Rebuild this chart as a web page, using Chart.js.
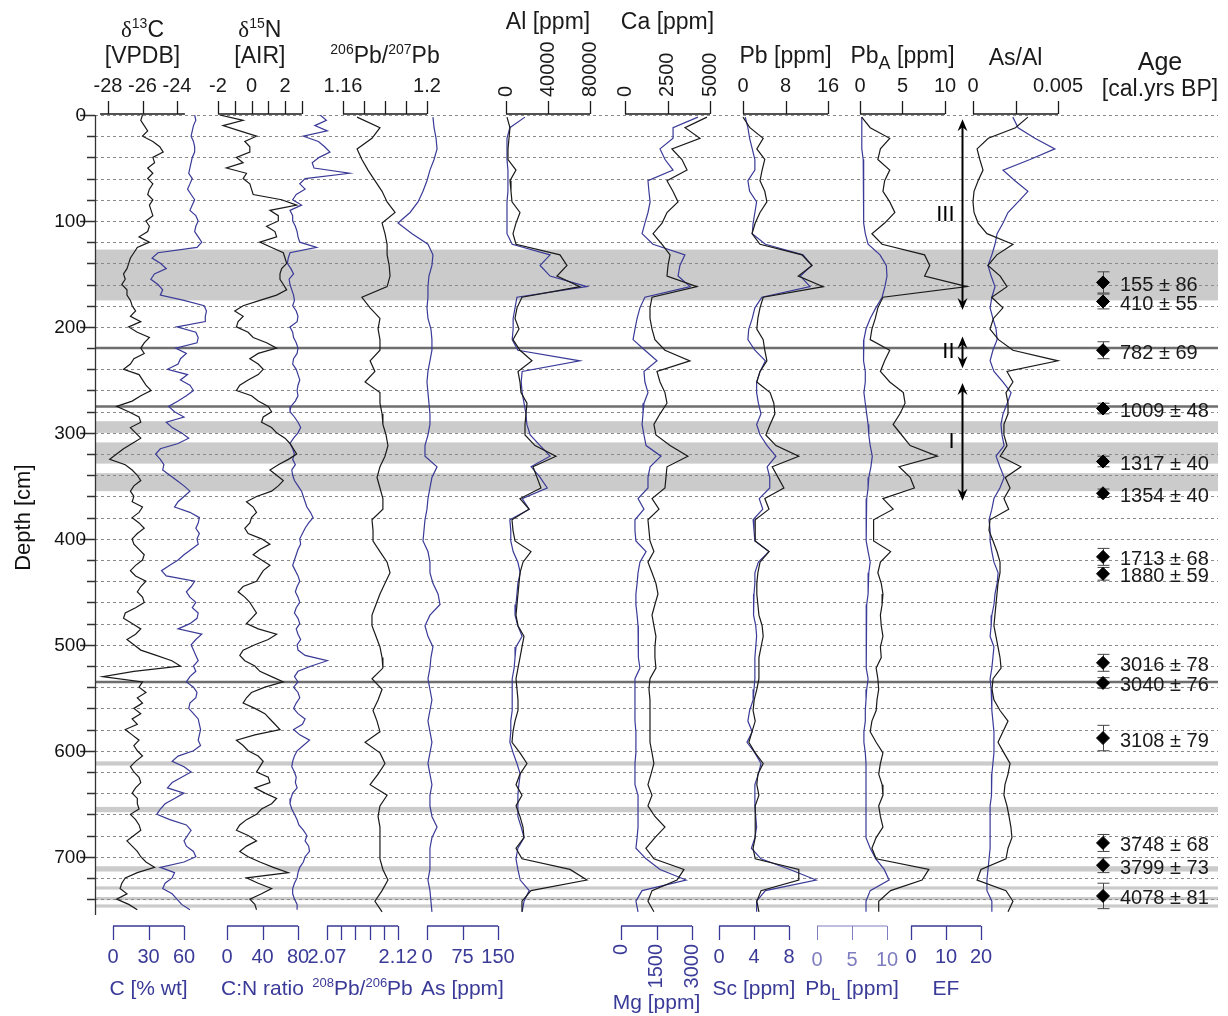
<!DOCTYPE html>
<html>
<head>
<meta charset="utf-8">
<title>Core profiles</title>
<script src="https://cdn.jsdelivr.net/npm/chart.js@4.4.1/dist/chart.umd.min.js"></script>
<style>
  html, body { margin: 0; padding: 0; background: #fff; }
  #core { display: block; }
</style>
</head>
<body>
<canvas id="core" width="1228" height="1016"></canvas>
<script>
// high resolution samples (isotopes, C, C:N), depth in cm
const hiDepth = [
  0, 5, 10, 15, 20, 25, 30, 35, 40, 45, 50, 55, 60, 65, 70, 75, 80, 85, 90, 95,
  100, 105, 110, 115, 120, 125, 130, 135, 140, 145, 150, 155, 160, 165, 170, 175, 180, 185, 190, 195,
  200, 205, 210, 215, 220, 225, 230, 235, 240, 245, 250, 255, 260, 265, 270, 275, 280, 285, 290, 295,
  300, 305, 310, 315, 320, 325, 330, 335, 340, 345, 350, 355, 360, 365, 370, 375, 380, 385, 390, 395,
  400, 405, 410, 415, 420, 425, 430, 435, 440, 445, 450, 455, 460, 465, 470, 475, 480, 485, 490, 495,
  500, 505, 510, 515, 520, 525, 530, 535, 540, 545, 550, 555, 560, 565, 570, 575, 580, 585, 590, 595,
  600, 605, 610, 615, 620, 625, 630, 635, 640, 645, 650, 655, 660, 665, 670, 675, 680, 685, 690, 695,
  700, 705, 710, 715, 720, 725, 730, 735, 740, 745, 750,
];
const d13C = [
  -26.0, -26.1, -25.9, -25.7, -26.0, -25.4, -25.0, -24.8, -25.4, -25.3,
  -25.7, -25.4, -25.7, -25.4, -25.6, -25.7, -25.4, -25.6, -25.5, -25.4,
  -25.8, -25.6, -25.7, -26.2, -25.6, -26.3, -26.5, -26.7, -26.8, -26.9,
  -27.1, -27.0, -27.2, -26.9, -26.9, -26.7, -26.6, -26.4, -26.7, -26.1,
  -26.8, -26.3, -25.6, -25.9, -26.1, -25.9, -26.5, -26.7, -27.1, -26.2,
  -26.0, -25.8, -25.5, -26.1, -26.6, -27.5, -26.8, -26.2, -26.1, -26.7,
  -26.4, -26.1, -26.6, -27.1, -27.5, -27.9, -27.0, -26.6, -26.3, -26.1,
  -26.5, -26.7, -26.5, -26.6, -26.0, -26.2, -26.6, -26.2, -25.9, -26.3,
  -26.6, -26.5, -26.2, -25.9, -26.0, -26.4, -26.7, -26.4, -25.8, -26.1,
  -26.3, -26.0, -25.9, -26.4, -27.0, -27.1, -26.6, -26.1, -26.4, -26.9,
  -26.5, -26.1, -25.2, -24.3, -23.8, -26.5, -28.3, -26.0, -26.2, -25.8,
  -26.3, -26.0, -26.5, -26.1, -26.6, -26.3, -27.0, -26.6, -26.2, -26.5,
  -26.3, -26.0, -26.4, -26.7, -26.5, -26.2, -26.1, -26.4, -26.6, -26.3,
  -26.3, -26.2, -26.7, -26.4, -26.2, -26.1, -26.5, -26.9, -26.6, -26.3,
  -26.1, -25.8, -25.3, -26.3, -27.0, -27.2, -27.3, -26.9, -27.5, -26.8, -26.3,
];
const carbon = [
  69, 70, 68, 67, 66, 68, 69, 69, 67, 66,
  65, 64, 67, 65, 63, 66, 69, 67, 65, 70,
  72, 70, 69, 72, 75, 71, 38, 33, 40, 45,
  35, 32, 38, 42, 40, 60, 77, 79, 78, 78,
  54, 70, 72, 71, 53, 62, 57, 55, 46, 63,
  57, 65, 68, 62, 55, 47, 52, 60, 45, 50,
  58, 64, 55, 40, 36, 40, 43, 42, 48, 54,
  60, 65, 60, 55, 52, 65, 73, 72, 70, 73,
  71, 72, 66, 60, 55, 48, 41, 45, 69, 66,
  62, 65, 70, 67, 72, 71, 65, 55, 75, 70,
  66, 68, 70, 72, 68, 70, 65, 62, 68, 71,
  70, 65, 64, 68, 72, 73, 74, 73, 72, 74,
  68, 55, 50, 60, 66, 58, 50, 46, 60, 52,
  44, 40, 37, 48, 62, 66, 63, 60, 62, 68,
  70, 60, 40, 52, 50, 44, 42, 50, 54, 58, 65,
];
const d15N = [
  -1.9, -0.5, -1.7, -0.7, 0.3, -0.4, -0.1, -0.1, -0.9, -0.5,
  -1.5, -0.3, -0.5, -0.1, 0.0, 0.1, 1.8, 2.7, 1.1, 1.6,
  1.6, 0.9, 1.4, 1.5, 0.5, 1.2, 1.9, 2.0, 2.1, 1.8,
  1.7, 1.7, 1.9, 2.1, 1.5, 0.5, -0.5, -1.0, -0.5, -0.8,
  -0.9, -0.2, 0.1, 0.9, 1.5, 0.4, -0.1, 0.4, 0.7, 0.4,
  -0.2, -0.7, -0.9, 0.0, 0.4, 1.0, 1.2, 0.7, 0.6, 1.2,
  1.5, 2.0, 2.3, 2.5, 2.7, 2.2, 1.6, 1.1, 1.5, 1.9,
  1.6, 1.2, 0.3, -0.3, 0.1, 0.3, 0.0, -0.1, -0.4, -0.2,
  0.6, 1.1, 0.5, 0.1, 0.6, 1.1, 0.7, 0.5, 0.3, -0.5,
  -0.8, -0.4, -0.1, 0.1, 0.3, 0.0, -0.3, 0.4, 1.5, 1.0,
  0.2, -0.5, -0.7, -0.4, 0.2, 0.5, 1.2, 1.9, 0.8, 0.0,
  -0.3, -0.5, 0.2, 0.8, 1.1, 1.4, 1.7, 0.2, -0.9, -0.5,
  -0.2, 0.4, 0.7, 0.5, 0.3, 1.0, 1.1, 0.2, 0.8, 1.5,
  1.2, 0.6, 0.3, -0.3, -0.7, -0.9, -0.2, 0.3, -0.3, -0.7,
  -0.2, 0.5, 1.3, 2.2, -0.3, 0.4, 1.2, 0.6, -0.1, 0.2, 0.3,
];
const cnRatio = [
  105, 112, 99, 113, 86, 103, 110, 116, 104, 96,
  98, 138, 88, 82, 88, 78, 74, 84, 71, 74,
  74, 77, 79, 80, 82, 101, 71, 69, 68, 72,
  75, 70, 71, 73, 75, 76, 74, 78, 80, 79,
  71, 74, 75, 78, 80, 79, 75, 74, 78, 80,
  82, 80, 79, 80, 77, 72, 71, 76, 80, 83,
  80, 75, 71, 74, 76, 74, 77, 73, 74, 76,
  80, 84, 86, 88, 90, 94, 97, 92, 88, 85,
  82, 83, 80, 78, 76, 74, 77, 80, 82, 79,
  77, 80, 82, 78, 76, 80, 82, 78, 80, 83,
  79, 80, 88, 113, 95, 80, 76, 80, 75, 80,
  82, 78, 75, 80, 88, 85, 75, 82, 93, 86,
  79, 76, 74, 73, 76, 78, 77, 79, 74, 72,
  71, 73, 76, 79, 81, 86, 90, 88, 92, 93,
  88, 86, 82, 80, 79, 76, 74, 74, 76, 79, 79,
];

// element / lead isotope samples
const elemDepth = [
  2, 12, 22, 32, 42, 52, 62, 72, 82, 92, 102, 112, 122, 132, 142, 152, 162, 172, 182, 192,
  202, 212, 222, 232, 242, 252, 262, 272, 282, 292, 302, 312, 322, 332, 342, 352, 362, 372, 382, 392,
  402, 412, 422, 432, 442, 452, 462, 472, 482, 492, 502, 512, 522, 532, 542, 552, 562, 572, 582, 592,
  602, 612, 622, 632, 642, 652, 662, 672, 682, 692, 702, 712, 722, 732, 742, 752,
];
const pb206_207 = [
  1.1667, 1.1776, 1.1738, 1.1667, 1.1690, 1.1719, 1.1752, 1.1786, 1.1810, 1.1848,
  1.1786, 1.1800, 1.1810, 1.1810, 1.1820, 1.1824, 1.1810, 1.1690, 1.1729, 1.1776,
  1.1767, 1.1776, 1.1776, 1.1729, 1.1752, 1.1705, 1.1776, 1.1776, 1.1786, 1.1790,
  1.1805, 1.1814, 1.1800, 1.1776, 1.1762, 1.1776, 1.1790, 1.1790, 1.1738, 1.1743,
  1.1743, 1.1776, 1.1810, 1.1824, 1.1800, 1.1776, 1.1757, 1.1738, 1.1738, 1.1757,
  1.1776, 1.1786, 1.1790, 1.1738, 1.1786, 1.1767, 1.1743, 1.1762, 1.1776, 1.1705,
  1.1776, 1.1800, 1.1767, 1.1729, 1.1810, 1.1776, 1.1767, 1.1776, 1.1776, 1.1776,
  1.1776, 1.1790, 1.1814, 1.1786, 1.1752, 1.1786,
];
const pb208_206 = [
  2.1446, 2.1454, 2.1468, 2.1475, 2.1454, 2.1425, 2.1404, 2.1376, 2.1341, 2.1285,
  2.1200, 2.1299, 2.1411, 2.1446, 2.1439, 2.1418, 2.1411, 2.1411, 2.1404, 2.1411,
  2.1432, 2.1439, 2.1439, 2.1425, 2.1411, 2.1404, 2.1411, 2.1418, 2.1425, 2.1425,
  2.1411, 2.1390, 2.1390, 2.1475, 2.1439, 2.1425, 2.1411, 2.1404, 2.1390, 2.1383,
  2.1376, 2.1411, 2.1425, 2.1425, 2.1446, 2.1482, 2.1496, 2.1425, 2.1390, 2.1411,
  2.1446, 2.1432, 2.1425, 2.1411, 2.1425, 2.1439, 2.1425, 2.1411, 2.1425, 2.1439,
  2.1425, 2.1411, 2.1425, 2.1439, 2.1425, 2.1425, 2.1439, 2.1475, 2.1439, 2.1425,
  2.1425, 2.1425, 2.1411, 2.1425, 2.1432, 2.1439,
];
const aluminium = [
  950, 3810, 2860, 1900, 1900, 9520, 3810, 4760, 5710, 13330,
  9520, 6660, 9520, 51400, 58070, 48550, 70450, 15230, 10470, 8570,
  12380, 6660, 13330, 24750, 11420, 13330, 14280, 19990, 19040, 18090,
  18090, 27610, 47600, 25700, 29510, 33320, 13330, 21900, 5710, 6660,
  8570, 23800, 16180, 13330, 12380, 11420, 10470, 9520, 11420, 17140,
  15230, 13330, 11420, 9520, 10470, 11420, 11420, 8570, 6660, 5710,
  13330, 19990, 13330, 9520, 15230, 9520, 13330, 16180, 17140, 9520,
  15230, 60930, 77110, 23800, 15230, 15230,
];
const arsenic = [
  207, 175, 169, 169, 169, 171, 171, 171, 169, 169,
  169, 169, 180, 260, 239, 260, 338, 190, 186, 182,
  182, 180, 192, 323, 201, 199, 201, 205, 209, 211,
  218, 239, 260, 220, 239, 254, 201, 216, 175, 177,
  177, 182, 192, 197, 192, 190, 188, 186, 192, 201,
  188, 186, 184, 180, 180, 180, 180, 177, 177, 175,
  182, 190, 197, 194, 192, 192, 192, 199, 205, 192,
  188, 192, 197, 216, 205, 201,
];
const calcium = [
  4820, 3530, 4410, 2760, 3350, 3650, 2470, 2820, 3120, 2470,
  2180, 1650, 2180, 2650, 2530, 2470, 4230, 1590, 1470, 1470,
  1590, 1760, 2350, 3820, 1880, 2060, 2350, 2470, 2060, 1700,
  1820, 2650, 3700, 2470, 2410, 2350, 1590, 2000, 1350, 1410,
  1470, 1700, 1350, 1590, 1820, 1940, 1760, 1590, 1700, 1820,
  1760, 1760, 1820, 1470, 1410, 1470, 1470, 1470, 1470, 1470,
  1590, 1700, 1530, 1350, 1590, 1350, 1760, 2350, 1760, 1230,
  1700, 3470, 3060, 1590, 1350, 1700,
];
const magnesium = [
  3250, 2200, 2200, 1650, 1860, 2200, 1140, 1180, 1230, 1140,
  1010, 890, 1350, 2700, 2490, 2410, 2920, 1010, 800, 680,
  590, 510, 1010, 1520, 970, 1010, 1140, 970, 930, 890,
  970, 1060, 1690, 1230, 1140, 1140, 720, 970, 590, 590,
  630, 1060, 800, 720, 680, 630, 630, 680, 720, 720,
  720, 760, 800, 590, 590, 590, 590, 590, 630, 630,
  630, 590, 590, 590, 720, 720, 720, 720, 680, 630,
  1060, 1650, 2750, 890, 630, 720,
];
const lead = [
  0.0, 1.3, 3.8, 2.6, 4.1, 3.6, 3.2, 4.1, 4.5, 3.2,
  2.3, 1.7, 3.2, 11.1, 13.0, 10.4, 15.1, 3.8, 3.2, 2.8,
  2.6, 3.8, 4.1, 4.5, 3.2, 2.6, 5.1, 5.8, 6.0, 5.1,
  4.3, 6.2, 10.5, 5.5, 6.6, 7.7, 4.1, 4.9, 2.3, 2.3,
  2.3, 4.9, 3.2, 2.8, 2.6, 2.6, 2.8, 3.0, 3.6, 3.8,
  3.4, 3.0, 3.0, 3.0, 2.6, 2.1, 1.9, 2.3, 1.7, 1.1,
  2.3, 3.8, 2.8, 2.6, 3.0, 2.3, 2.3, 2.3, 2.3, 1.9,
  2.3, 10.5, 10.5, 3.4, 2.6, 3.0,
];
const scandium = [
  3.0, 3.3, 3.5, 3.8, 4.1, 4.1, 3.3, 3.5, 4.3, 4.1,
  3.9, 3.8, 5.3, 9.6, 10.6, 9.3, 10.4, 4.9, 4.1, 3.8,
  3.4, 3.3, 4.1, 5.3, 4.7, 4.3, 4.3, 4.5, 4.8, 4.3,
  4.7, 5.5, 6.5, 5.5, 5.8, 5.8, 4.6, 5.0, 3.9, 4.0,
  4.1, 5.7, 4.5, 4.1, 4.1, 4.0, 3.9, 4.0, 4.2, 4.3,
  4.2, 4.1, 4.1, 4.1, 4.0, 3.9, 3.5, 3.3, 3.8, 3.2,
  4.1, 4.8, 4.5, 4.1, 4.1, 4.1, 4.2, 4.3, 4.1, 3.7,
  4.8, 8.1, 11.1, 5.3, 4.3, 4.3,
];
const leadA = [
  0.2, 1.2, 3.5, 2.4, 2.1, 3.5, 2.9, 2.7, 3.5, 4.1,
  2.9, 1.4, 2.6, 7.6, 8.2, 7.6, 12.6, 2.7, 2.1, 1.8,
  1.4, 1.2, 3.5, 2.9, 2.4, 3.5, 5.1, 5.3, 4.7, 3.9,
  4.9, 5.9, 9.1, 4.6, 5.9, 6.4, 2.7, 3.9, 1.6, 1.6,
  1.6, 3.6, 2.4, 2.1, 2.5, 2.7, 2.6, 2.4, 2.5, 2.7,
  2.4, 2.5, 1.9, 2.1, 2.2, 2.0, 1.9, 1.4, 1.2, 1.9,
  2.7, 2.4, 2.2, 2.6, 2.7, 2.2, 2.4, 2.7, 1.9, 1.4,
  1.9, 8.1, 7.3, 3.6, 2.2, 2.2,
];
const leadL = [
  6.4, 6.4, 6.4, 6.4, 6.6, 6.6, 6.6, 6.7, 6.7, 6.7,
  6.7, 6.9, 7.3, 9.0, 9.9, 10.0, 9.7, 9.3, 8.4, 7.6,
  7.0, 6.7, 6.6, 6.7, 6.9, 6.9, 6.7, 6.9, 7.1, 7.3,
  7.4, 7.6, 7.9, 7.7, 7.4, 7.3, 7.1, 7.0, 7.0, 7.0,
  7.1, 7.3, 7.6, 7.4, 7.3, 7.3, 7.1, 7.0, 7.0, 7.0,
  7.0, 7.1, 7.1, 7.3, 7.1, 7.0, 6.9, 6.9, 6.7, 6.7,
  6.9, 7.0, 7.0, 7.0, 7.0, 7.0, 7.0, 7.0, 7.0, 7.6,
  8.4, 9.6, 10.3, 7.6, 7.0, 7.0,
];
const asAlRatio = [
  0.00323, 0.00250, 0.00090, 0.00024, 0.00040, 0.00059, 0.00030, 0.00006, 0.00000, 0.00006,
  0.00030, 0.00082, 0.00235, 0.00140, 0.00088, 0.00160, 0.00200, 0.00110, 0.00176, 0.00120,
  0.00100, 0.00150, 0.00235, 0.00500, 0.00200, 0.00235, 0.00194, 0.00206, 0.00206, 0.00182,
  0.00182, 0.00200, 0.00160, 0.00282, 0.00190, 0.00218, 0.00182, 0.00210, 0.00100, 0.00094,
  0.00118, 0.00141, 0.00159, 0.00159, 0.00147, 0.00141, 0.00135, 0.00129, 0.00123, 0.00135,
  0.00147, 0.00159, 0.00165, 0.00118, 0.00112, 0.00123, 0.00159, 0.00206, 0.00176, 0.00147,
  0.00182, 0.00218, 0.00206, 0.00188, 0.00182, 0.00200, 0.00212, 0.00223, 0.00229, 0.00206,
  0.00194, 0.00047, 0.00024, 0.00194, 0.00235, 0.00206,
];
const enrichment = [
  29.1, 30.6, 35.4, 41.1, 34.0, 26.3, 29.7, 33.4, 30.6, 27.7,
  26.3, 24.6, 24.0, 23.1, 22.0, 22.9, 24.0, 23.1, 22.6, 23.4,
  24.3, 24.6, 23.4, 22.6, 23.7, 26.3, 28.6, 27.5, 26.3, 25.7,
  26.0, 26.6, 24.3, 25.4, 26.6, 25.4, 23.7, 23.1, 22.3, 22.6,
  22.6, 23.1, 23.7, 24.9, 24.6, 24.0, 23.7, 23.1, 22.9, 22.6,
  23.7, 23.4, 23.1, 22.6, 22.9, 23.1, 23.1, 23.4, 23.7, 23.7,
  23.7, 23.4, 23.1, 23.1, 22.9, 22.6, 22.6, 22.6, 22.6, 22.6,
  22.3, 22.0, 21.7, 21.7, 23.1, 23.1,
];

// radiocarbon ages
const ageDepth = [158, 176, 222, 277, 327, 357, 417, 433, 517, 536, 588, 687, 708, 737];
const ageDepthErr = [10, 7, 8, 5, 5, 4, 8, 6, 8, 5, 12, 8, 7, 12];
const ageValue = [155, 410, 782, 1009, 1317, 1354, 1713, 1880, 3016, 3040, 3108, 3748, 3799, 4078];
const ageSigma = [86, 55, 69, 48, 40, 40, 68, 59, 78, 76, 79, 68, 73, 81];

// shaded layers and marker horizons (cm)
const bandTop = [127, 289, 309, 338, 610, 653, 709, 728, 738, 745];
const bandBottom = [175, 300, 329, 355, 614, 658, 714, 731, 741, 748];
const darkLines = [220, 275, 535];

// zones
const zoneName = ["III", "II", "I"];
const zoneTop = [4, 209, 253];
const zoneBottom = [184, 239, 364];

const AREA = { left: 95, top: 115, right: 1218, bottom: 915 };
const DEPTH_MAX = 755;
const SANS = "'Liberation Sans', Arial, sans-serif";
const SERIF = "'Liberation Serif', 'Times New Roman', serif";
const BLACK = "#1a1a1a";
const BLUE = "#3a3a98";

// each axis: two (value, pixel) anchors so its ticks sit where the figure has them
const axisSpecs = [
  { id: "xd13C", side: "top", a: [-28, 108, -24, 177], line: [-28.46, -23.54], ticks: [-28, -26, -24], labels: [-28, -26, -24] },
  { id: "xd15N", side: "top", a: [-2, 218, 2, 285], ticks: [-2, -1, 0, 1, 2, 3], labels: [-2, 0, 2] },
  { id: "xPb67", side: "top", a: [1.16, 343, 1.2, 427], ticks: [1.16, 1.17, 1.18, 1.19, 1.2], labels: [1.16, 1.2] },
  { id: "xAl", side: "top", a: [0, 506, 80000, 590], ticks: [0, 40000, 80000], labels: [0, 40000, 80000], rotate: true },
  { id: "xCa", side: "top", a: [0, 625, 5000, 710], ticks: [0, 2500, 5000], labels: [0, 2500, 5000], rotate: true },
  { id: "xPb", side: "top", a: [0, 743, 16, 828], ticks: [0, 8, 16], labels: [0, 8, 16] },
  { id: "xPbA", side: "top", a: [0, 860, 10, 945], ticks: [0, 5, 10], labels: [0, 5, 10] },
  { id: "xAsAl", side: "top", a: [0, 973, 0.005, 1058], ticks: [0, 0.0025, 0.005], labels: [0, 0.005] },
  { id: "xC", side: "bottom", a: [0, 113, 60, 184], ticks: [0, 30, 60], labels: [0, 30, 60] },
  { id: "xCN", side: "bottom", a: [0, 227, 80, 298], ticks: [0, 40, 80], labels: [0, 40, 80] },
  { id: "xPb86", side: "bottom", a: [2.07, 327, 2.12, 398], ticks: [2.07, 2.08, 2.09, 2.1, 2.11, 2.12], labels: [2.07, 2.12] },
  { id: "xAs", side: "bottom", a: [0, 427, 150, 498], ticks: [0, 75, 150], labels: [0, 75, 150] },
  { id: "xMg", side: "bottom", a: [0, 621, 3000, 692], ticks: [0, 1500, 3000], labels: [0, 1500, 3000], rotate: true },
  { id: "xSc", side: "bottom", a: [0, 719, 8, 789], ticks: [0, 4, 8], labels: [0, 4, 8] },
  { id: "xPbL", side: "bottom", a: [0, 817, 10, 887], ticks: [0, 5, 10], labels: [0, 5, 10], faint: true },
  { id: "xEF", side: "bottom", a: [0, 911, 20, 981], ticks: [0, 10, 20], labels: [0, 10, 20] },
  { id: "xAge", side: "none", a: [0, 1103, 1, 1203] },
];

const titleSpecs = [
  { axis: "xd13C", base: 37, size: 23, parts: [["δ", "greek"], ["13", "sup"], ["C"]] },
  { axis: "xd13C", base: 63, size: 23, parts: [["[VPDB]"]] },
  { axis: "xd15N", base: 37, size: 23, parts: [["δ", "greek"], ["15", "sup"], ["N"]] },
  { axis: "xd15N", base: 63, size: 23, parts: [["[AIR]"]] },
  { axis: "xPb67", base: 63, size: 23, parts: [["206", "sup"], ["Pb/"], ["207", "sup"], ["Pb"]] },
  { axis: "xAl", base: 29, size: 23, parts: [["Al [ppm]"]] },
  { axis: "xCa", base: 29, size: 23, parts: [["Ca [ppm]"]] },
  { axis: "xPb", base: 63, size: 23, parts: [["Pb [ppm]"]] },
  { axis: "xPbA", base: 63, size: 23, parts: [["Pb"], ["A", "sub"], [" [ppm]"]] },
  { axis: "xAsAl", base: 65, size: 23, parts: [["As/Al"]] },
  { axis: "xC", base: 995, size: 21, parts: [["C [% wt]"]], blue: true },
  { axis: "xCN", base: 995, size: 21, parts: [["C:N ratio"]], blue: true },
  { axis: "xPb86", base: 995, size: 21, parts: [["208", "sup"], ["Pb/"], ["206", "sup"], ["Pb"]], blue: true },
  { axis: "xAs", base: 995, size: 21, parts: [["As [ppm]"]], blue: true },
  { axis: "xMg", base: 1009, size: 21, parts: [["Mg [ppm]"]], blue: true },
  { axis: "xSc", base: 995, size: 21, parts: [["Sc [ppm]"]], blue: true },
  { axis: "xPbL", base: 995, size: 21, parts: [["Pb"], ["L", "sub"], [" [ppm]"]], blue: true },
  { axis: "xEF", base: 995, size: 21, parts: [["EF"]], blue: true },
];

function scaleRange(v0, p0, v1, p1) {
  const k = (p1 - p0) / (v1 - v0);
  const min = v0 - (p0 - AREA.left) / k;
  return { min: min, max: min + (AREA.right - AREA.left) / k };
}

function profile(depths, values, axisId, color) {
  return {
    data: depths.map((d, i) => ({ x: values[i], y: d })),
    xAxisID: axisId,
    yAxisID: "y",
    showLine: true,
    borderColor: color,
    borderWidth: 1.2,
    pointRadius: 0,
    pointHoverRadius: 0,
    fill: false,
    tension: 0,
  };
}

function drawRich(ctx, parts, cx, base, size, color) {
  const fontFor = (kind) => {
    const s = kind === "sup" ? Math.round(size * 0.6) : kind === "sub" ? Math.round(size * 0.8) : size;
    return s + "px " + (kind === "greek" ? SERIF : SANS);
  };
  let w = 0;
  parts.forEach(([t, k]) => {
    ctx.font = fontFor(k);
    w += ctx.measureText(t).width;
  });
  let x = cx - w / 2;
  ctx.fillStyle = color;
  ctx.textAlign = "left";
  ctx.textBaseline = "alphabetic";
  parts.forEach(([t, k]) => {
    ctx.font = fontFor(k);
    const dy = k === "sup" ? -size * 0.4 : k === "sub" ? size * 0.25 : 0;
    ctx.fillText(t, x, base + dy);
    x += ctx.measureText(t).width;
  });
}

function drawAxis(ctx, scale, spec) {
  const top = spec.side === "top";
  const color = top ? BLACK : spec.faint ? "#7d7dbf" : BLUE;
  const lineY = top ? AREA.top - 1 : 926;
  const tickEnd = top ? lineY - 13 : lineY + 14;
  const ends = spec.line || [spec.ticks[0], spec.ticks[spec.ticks.length - 1]];
  ctx.strokeStyle = color;
  ctx.lineWidth = spec.faint ? 1 : 1.3;
  ctx.beginPath();
  ctx.moveTo(scale.getPixelForValue(ends[0]), lineY);
  ctx.lineTo(scale.getPixelForValue(ends[1]), lineY);
  spec.ticks.forEach((t) => {
    const px = Math.round(scale.getPixelForValue(t)) + 0.5;
    ctx.moveTo(px, lineY);
    ctx.lineTo(px, tickEnd);
  });
  ctx.stroke();

  ctx.fillStyle = color;
  ctx.font = "20px " + SANS;
  spec.labels.forEach((v) => {
    const px = scale.getPixelForValue(v);
    const text = String(v);
    if (spec.rotate) {
      ctx.save();
      ctx.translate(px, top ? 97 : 944);
      ctx.rotate(-Math.PI / 2);
      ctx.textAlign = top ? "left" : "right";
      ctx.textBaseline = "middle";
      ctx.fillText(text, 0, 0);
      ctx.restore();
    } else {
      ctx.textAlign = "center";
      ctx.textBaseline = "alphabetic";
      ctx.fillText(text, px, top ? 92 : spec.faint ? 966 : 963);
    }
  });
}

function arrowHead(ctx, x, y, dir) {
  ctx.beginPath();
  ctx.moveTo(x, y);
  ctx.lineTo(x - 5, y - dir * 12);
  ctx.lineTo(x, y - dir * 8);
  ctx.lineTo(x + 5, y - dir * 12);
  ctx.closePath();
  ctx.fill();
}

const decor = {
  id: "decor",
  beforeDatasetsDraw(chart) {
    const { ctx, scales } = chart;
    const y = scales.y;
    const left = AREA.left;
    const right = AREA.right;
    ctx.save();

    // shaded layers
    ctx.fillStyle = "#cbcbcb";
    bandTop.forEach((t, i) => {
      const y0 = y.getPixelForValue(t);
      const y1 = y.getPixelForValue(bandBottom[i]);
      ctx.fillRect(left, y0, right - left, y1 - y0);
    });

    // sampling grid, every 20 cm
    ctx.strokeStyle = "#8a8a8a";
    ctx.lineWidth = 1;
    ctx.setLineDash([3, 3]);
    for (let d = 0; d <= 740; d += 20) {
      const py = Math.round(y.getPixelForValue(d)) + 0.5;
      ctx.beginPath();
      ctx.moveTo(left, py);
      ctx.lineTo(right, py);
      ctx.stroke();
    }
    ctx.setLineDash([]);

    // marker horizons
    ctx.strokeStyle = "#6e6e6e";
    ctx.lineWidth = 2.5;
    darkLines.forEach((d) => {
      const py = y.getPixelForValue(d);
      ctx.beginPath();
      ctx.moveTo(left, py);
      ctx.lineTo(right, py);
      ctx.stroke();
    });

    // age depth error bars
    const ax = scales.xAge;
    const px = Math.round(ax.getPixelForValue(0)) + 0.5;
    ctx.strokeStyle = "#444";
    ctx.lineWidth = 1;
    ageDepth.forEach((d, i) => {
      const y0 = y.getPixelForValue(d - ageDepthErr[i]);
      const y1 = y.getPixelForValue(d + ageDepthErr[i]);
      ctx.beginPath();
      ctx.moveTo(px, y0);
      ctx.lineTo(px, y1);
      ctx.moveTo(px - 6, y0);
      ctx.lineTo(px + 6, y0);
      ctx.moveTo(px - 6, y1);
      ctx.lineTo(px + 6, y1);
      ctx.stroke();
    });
    ctx.restore();
  },
  afterDatasetsDraw(chart) {
    const { ctx, scales } = chart;
    const y = scales.y;
    ctx.save();

    // depth axis
    ctx.strokeStyle = "#333";
    ctx.lineWidth = 1.3;
    ctx.beginPath();
    ctx.moveTo(AREA.left + 0.5, AREA.top);
    ctx.lineTo(AREA.left + 0.5, AREA.bottom);
    for (let d = 0; d <= 740; d += 20) {
      const py = Math.round(y.getPixelForValue(d)) + 0.5;
      ctx.moveTo(AREA.left, py);
      ctx.lineTo(AREA.left - (d % 100 === 0 ? 15 : 8), py);
    }
    ctx.stroke();
    ctx.fillStyle = "#111";
    ctx.font = "19px " + SANS;
    ctx.textAlign = "right";
    ctx.textBaseline = "middle";
    for (let d = 0; d <= 700; d += 100) {
      ctx.fillText(String(d), AREA.left - 9, y.getPixelForValue(d) + 1);
    }
    ctx.save();
    ctx.translate(24, y.getPixelForValue(380));
    ctx.rotate(-Math.PI / 2);
    ctx.textAlign = "center";
    ctx.font = "22px " + SANS;
    ctx.fillText("Depth [cm]", 0, 0);
    ctx.restore();

    // panel axes and titles
    axisSpecs.forEach((spec) => {
      if (spec.side !== "none") drawAxis(ctx, scales[spec.id], spec);
    });
    titleSpecs.forEach((t) => {
      const spec = axisSpecs.find((s) => s.id === t.axis);
      const sc = scales[t.axis];
      const ends = spec.line || [spec.ticks[0], spec.ticks[spec.ticks.length - 1]];
      const cx = (sc.getPixelForValue(ends[0]) + sc.getPixelForValue(ends[1])) / 2;
      drawRich(ctx, t.parts, cx, t.base, t.size, t.blue ? BLUE : BLACK);
    });

    // age column
    const ax = scales.xAge;
    drawRich(ctx, [["Age"]], ax.getPixelForValue(0.57), 70, 25, BLACK);
    drawRich(ctx, [["[cal.yrs BP]"]], ax.getPixelForValue(0.57), 96, 23, BLACK);
    ctx.fillStyle = BLACK;
    ctx.font = "20px " + SANS;
    ctx.textAlign = "left";
    ctx.textBaseline = "middle";
    ageDepth.forEach((d, i) => {
      ctx.fillText(ageValue[i] + " ± " + ageSigma[i], ax.getPixelForValue(0.17), y.getPixelForValue(d) + 3);
    });

    // zone arrows
    const zx = Math.round(scales.xPbA.getPixelForValue(12)) + 0.5;
    ctx.strokeStyle = "#000";
    ctx.fillStyle = "#000";
    ctx.lineWidth = 2;
    zoneName.forEach((name, i) => {
      const y0 = y.getPixelForValue(zoneTop[i]);
      const y1 = y.getPixelForValue(zoneBottom[i]);
      ctx.beginPath();
      ctx.moveTo(zx, y0 + 4);
      ctx.lineTo(zx, y1 - 4);
      ctx.stroke();
      arrowHead(ctx, zx, y0, -1);
      arrowHead(ctx, zx, y1, 1);
      ctx.font = "22px " + SANS;
      ctx.textAlign = "right";
      ctx.textBaseline = "middle";
      ctx.fillText(name, zx - 8, (y0 + y1) / 2);
    });
    ctx.restore();
  },
};

const scales = {
  y: { type: "linear", axis: "y", reverse: true, min: 0, max: DEPTH_MAX, display: false },
};
axisSpecs.forEach((spec) => {
  const r = scaleRange(spec.a[0], spec.a[1], spec.a[2], spec.a[3]);
  scales[spec.id] = { type: "linear", axis: "x", min: r.min, max: r.max, display: false };
});

const ageSet = {
  data: ageDepth.map((d) => ({ x: 0, y: d })),
  xAxisID: "xAge",
  yAxisID: "y",
  showLine: false,
  pointStyle: "rectRot",
  pointRadius: 6.5,
  pointHoverRadius: 6.5,
  backgroundColor: "#000",
  borderColor: "#000",
};

const datasets = [
  ageSet,
  profile(hiDepth, d13C, "xd13C", BLACK),
  profile(hiDepth, d15N, "xd15N", BLACK),
  profile(elemDepth, pb206_207, "xPb67", BLACK),
  profile(elemDepth, aluminium, "xAl", BLACK),
  profile(elemDepth, calcium, "xCa", BLACK),
  profile(elemDepth, lead, "xPb", BLACK),
  profile(elemDepth, leadA, "xPbA", BLACK),
  profile(elemDepth, asAlRatio, "xAsAl", BLACK),
  profile(hiDepth, carbon, "xC", BLUE),
  profile(hiDepth, cnRatio, "xCN", BLUE),
  profile(elemDepth, pb208_206, "xPb86", BLUE),
  profile(elemDepth, arsenic, "xAs", BLUE),
  profile(elemDepth, magnesium, "xMg", BLUE),
  profile(elemDepth, scandium, "xSc", BLUE),
  profile(elemDepth, leadL, "xPbL", BLUE),
  profile(elemDepth, enrichment, "xEF", BLUE),
];

new Chart(document.getElementById("core").getContext("2d"), {
  type: "scatter",
  data: { datasets: datasets },
  options: {
    responsive: false,
    animation: false,
    layout: {
      padding: {
        left: AREA.left,
        top: AREA.top,
        right: 1228 - AREA.right,
        bottom: 1016 - AREA.bottom,
      },
    },
    scales: scales,
    plugins: { legend: { display: false }, tooltip: { enabled: false } },
  },
  plugins: [decor],
});
</script>
</body>
</html>
